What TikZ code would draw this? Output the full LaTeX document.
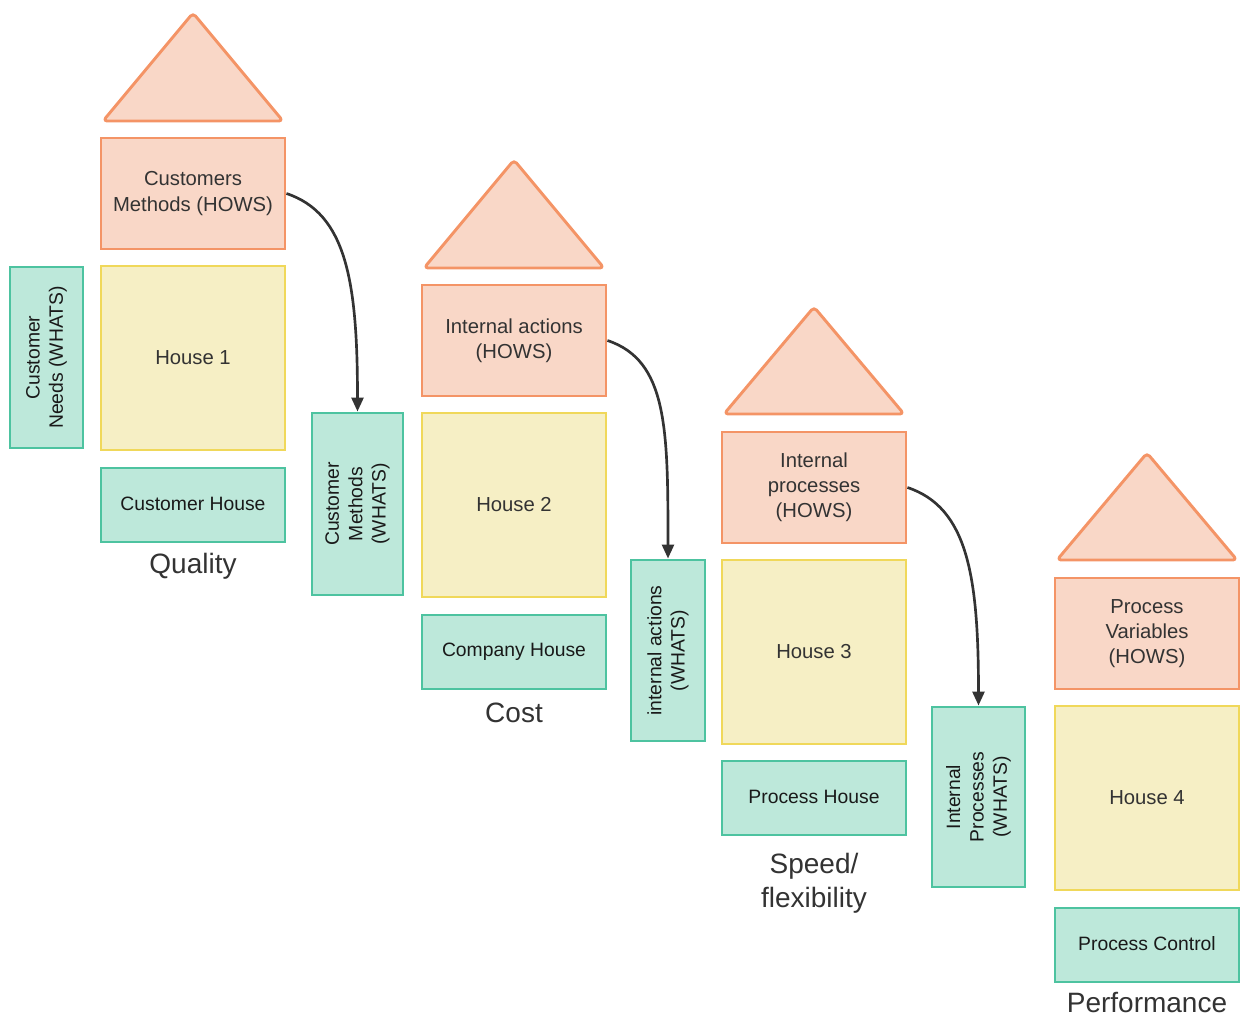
\documentclass[tikz,border=0pt]{standalone}
\usepackage{fontspec}
\setmainfont{Liberation Sans}
\usetikzlibrary{arrows.meta}
\definecolor{howfill}{HTML}{F9D7C7}
\definecolor{howline}{HTML}{F49466}
\definecolor{housefill}{HTML}{F6EFC5}
\definecolor{houseline}{HTML}{F0D85A}
\definecolor{whatfill}{HTML}{BDE8DA}
\definecolor{whatline}{HTML}{4DC3A0}
\definecolor{ink}{HTML}{333333}
\newcommand\lifted[1]{\raisebox{2.2pt}{#1}}
\tikzset{
  base/.style={draw, line width=2.2pt, inner sep=0pt, align=center,
    font=\fontsize{15.2}{18.9}\selectfont, text=ink},
  hows/.style={base, fill=howfill, draw=howline,
    minimum width={184*0.75pt}, minimum height={111*0.75pt}},
  house/.style={base, fill=housefill, draw=houseline,
    minimum width={184*0.75pt}, minimum height={184*0.75pt}},
  bottombox/.style={base, fill=whatfill, draw=whatline, text=black!90,
    font=\fontsize{14.5}{18}\selectfont,
    minimum width={184*0.75pt}, minimum height={74*0.75pt}},
  whats/.style={base, fill=whatfill, draw=whatline, text=black!90, rotate=90,
    font=\fontsize{14.5}{17.5}\selectfont},
  roof/.style={fill=howfill, draw=howline, line width=2.2pt, rounded corners=3pt, line join=round},
  caption/.style={align=center, text=ink, font=\fontsize{21}{25.5}\selectfont},
  link/.style={draw=ink, line width=2pt, -{Triangle[length=10.5pt,width=9pt]}}
}
\begin{document}
\begin{tikzpicture}[x=0.75pt, y=-0.75pt]
\useasboundingbox (0,0) rectangle (1240,1017);

% --- house 1: quality
\draw[roof] (193,13) -- (283,121) -- (103,121) -- cycle;
\node[hows] (h1) at (193,193.5) {Customers\\Methods (HOWS)};
\node[house] (m1) at (193,358) {House 1};
\node[bottombox] (b1) at (193,505) {\lifted{Customer House}};
\node[caption] (c1) at (193,566) {Quality};

% --- house 2: cost
\draw[roof] (514,160) -- (604,268) -- (424,268) -- cycle;
\node[hows] (h2) at (514,340.5) {Internal actions\\(HOWS)};
\node[house] (m2) at (514,505) {House 2};
\node[bottombox] (b2) at (514,652) {\lifted{Company House}};
\node[caption] (c2) at (514,713) {Cost};

% --- house 3: speed / flexibility
\draw[roof] (814,307) -- (904,414) -- (724,414) -- cycle;
\node[hows] (h3) at (814,487.5) {Internal\\processes\\(HOWS)};
\node[house] (m3) at (814,652) {House 3};
\node[bottombox] (b3) at (814,798) {\lifted{Process House}};
\node[caption] (c3) at (814,883) {Speed/\\flexibility};

% --- house 4: performance
\draw[roof] (1147,453) -- (1237,560) -- (1057,560) -- cycle;
\node[hows] (h4) at (1147,633.5) {Process\\Variables\\(HOWS)};
\node[house] (m4) at (1147,798) {House 4};
\node[bottombox] (b4) at (1147,945) {\lifted{Process Control}};
\node[caption] (c4) at (1147,1002) {Performance};

% --- WHATS columns (rotated, so width/height are swapped)
\node[whats, minimum width={181*0.75pt}, minimum height={73*0.75pt}] (w0) at (46.5,357.5) {Customer\\Needs (WHATS)};
\node[whats, minimum width={182*0.75pt}, minimum height={91*0.75pt}] (w1) at (357.5,504) {Customer\\Methods\\(WHATS)};
\node[whats, minimum width={181*0.75pt}, minimum height={74*0.75pt}] (w2) at (668,650.5) {internal actions\\(WHATS)};
\node[whats, minimum width={180*0.75pt}, minimum height={93*0.75pt}] (w3) at (978.5,797) {Internal\\Processes\\(WHATS)};

% --- hand-over arrows: HOWS of one house become WHATS of the next
\draw[link] (h1.east) .. controls +(60,20) and +(0,-130) .. (w1.east);
\draw[link] (h2.east) .. controls +(60,20) and +(0,-130) .. (w2.east);
\draw[link] (h3.east) .. controls +(60,20) and +(0,-130) .. (w3.east);
\end{tikzpicture}
\end{document}
